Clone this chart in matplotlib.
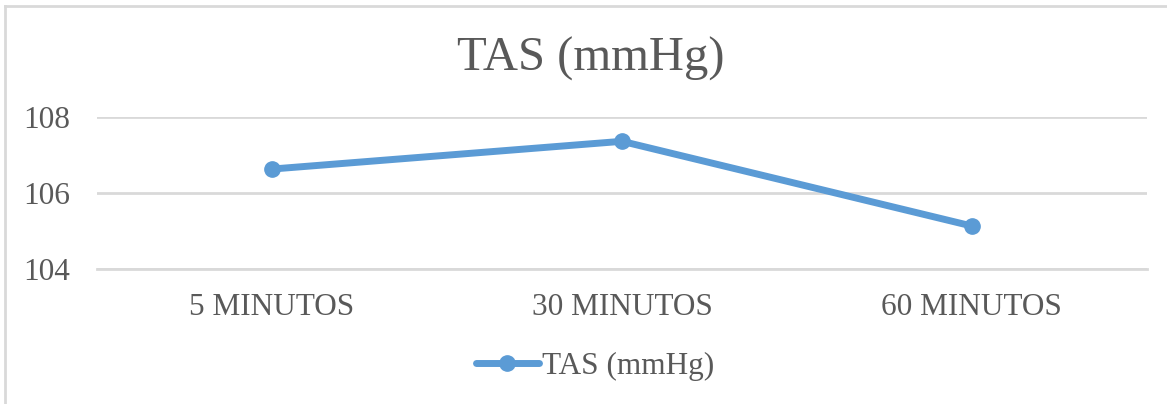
import matplotlib
matplotlib.use('Agg')
import matplotlib.pyplot as plt
from matplotlib.lines import Line2D

plt.rcParams['font.family'] = ['Liberation Serif', 'DejaVu Serif']

categorias = ['5 MINUTOS', '30 MINUTOS', '60 MINUTOS']
tas = [106.63, 107.36, 105.13]
yticks = [104, 106, 108]

azul = '#5B9BD5'
gris = '#595959'
rejilla = '#D9D9D9'

fig = plt.figure(figsize=(11.67, 4.04), dpi=100)
ax = fig.add_axes([0.0831, 0.3342, 0.8997, 0.3762])

x = range(len(categorias))
ax.plot(x, tas, color=azul, lw=5, marker='o', ms=11, solid_capstyle='round',
        label='TAS (mmHg)')

ax.set_xlim(-0.5, len(categorias) - 0.5)
ax.set_ylim(104, 108)
ax.set_yticks(yticks)
ax.set_xticks(list(x))
ax.set_xticklabels(categorias)
ax.grid(axis='y', color=rejilla, lw=2)
ax.set_axisbelow(True)
for s in ax.spines.values():
    s.set_visible(False)
ax.spines['bottom'].set_visible(True)
ax.spines['bottom'].set_color(rejilla)
ax.spines['bottom'].set_linewidth(2)
ax.tick_params(axis='both', length=0, labelsize=22.5, colors=gris)
ax.tick_params(axis='y', pad=19)
ax.tick_params(axis='x', pad=17)

fig.text(0.506, 0.855, 'TAS (mmHg)', fontsize=35, color=gris,
         ha='center', va='center')

h = Line2D([], [], color=azul, lw=5, marker='o', ms=11, solid_capstyle='round')
fig.legend([h], ['TAS (mmHg)'], loc='center', bbox_to_anchor=(0.51, 0.092),
           frameon=False, fontsize=22.5, labelcolor=gris, handlelength=2.0,
           handletextpad=0.1)

# marco del gráfico (solo superior e izquierdo)
fig.add_artist(Line2D([0.004, 1.0], [0.986, 0.986], color=rejilla, lw=2,
                      transform=fig.transFigure))
fig.add_artist(Line2D([0.0042, 0.0042], [0.0, 0.986], color=rejilla, lw=2,
                      transform=fig.transFigure))

fig.savefig('out.png', dpi=100)
